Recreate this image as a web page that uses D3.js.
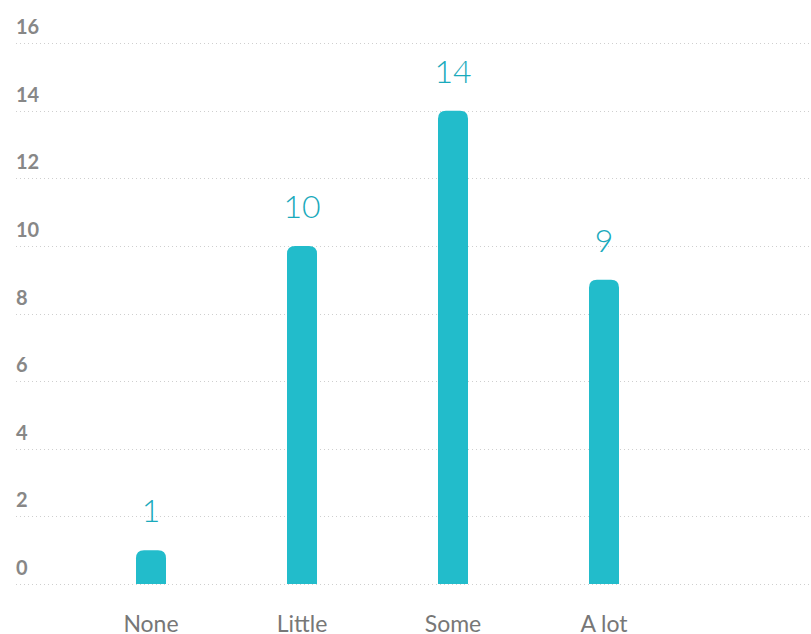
<!DOCTYPE html>
<html>
<head>
<meta charset="utf-8">
<script src="https://cdnjs.cloudflare.com/ajax/libs/d3/7.8.5/d3.min.js"></script>
<style>
  body { margin: 0; background: #fff; }
  svg { display: block; font-family: Lato, "Noto Sans", sans-serif; }
</style>
</head>
<body>
<script>
let categories = ["None", "Little", "Some", "A lot"];
let values = [1, 10, 14, 9];
let yTicks = [0, 2, 4, 6, 8, 10, 12, 14, 16];

let width = 811,
    height = 634;

let svg = d3.select('body').append('svg')
    .attr('width', width)
    .attr('height', height);

let x = d3.scaleBand().domain(categories).range([75.5, 679.5]);
let y = d3.scaleLinear().domain([0, 16]).range([584, 43]);
let barW = 30, r = 8;

// gridlines + y labels
let grid = svg.append('g');
grid.selectAll('line').data(yTicks).enter().append('line')
    .attr('x1', 16).attr('x2', width)
    .attr('y1', d => Math.round(y(d)) + 0.5).attr('y2', d => Math.round(y(d)) + 0.5)
    .attr('stroke', '#cfcfcf').attr('stroke-width', 1)
    .attr('stroke-dasharray', '1,3');
grid.selectAll('text').data(yTicks).enter().append('text')
    .attr('x', 16).attr('y', d => y(d) - 9)
    .attr('fill', '#878787').attr('font-size', 20).attr('font-weight', 700)
    .text(d => d);

// bars with rounded tops
function barPath(cx, top, bottom) {
    let l = cx - barW / 2, rr = Math.min(r, (bottom - top));
    return `M${l},${bottom}V${top + rr}Q${l},${top} ${l + rr},${top}H${l + barW - rr}Q${l + barW},${top} ${l + barW},${top + rr}V${bottom}Z`;
}
let data = categories.map((c, i) => ({cat: c, val: values[i]}));
svg.append('g').selectAll('path').data(data).enter().append('path')
    .attr('d', d => barPath(x(d.cat) + x.bandwidth() / 2, y(d.val), y(0)))
    .attr('fill', '#22bccb');

// value labels
svg.append('g').selectAll('text').data(data).enter().append('text')
    .attr('x', d => x(d.cat) + x.bandwidth() / 2)
    .attr('y', d => y(d.val) - 28)
    .attr('text-anchor', 'middle')
    .attr('fill', '#1aaabc').attr('font-size', 32).attr('font-weight', 300)
    .text(d => d.val);

// category labels
svg.append('g').selectAll('text').data(categories).enter().append('text')
    .attr('x', d => x(d) + x.bandwidth() / 2)
    .attr('y', 632)
    .attr('text-anchor', 'middle')
    .attr('fill', '#777').attr('font-size', 23)
    .text(d => d);
</script>
</body>
</html>
